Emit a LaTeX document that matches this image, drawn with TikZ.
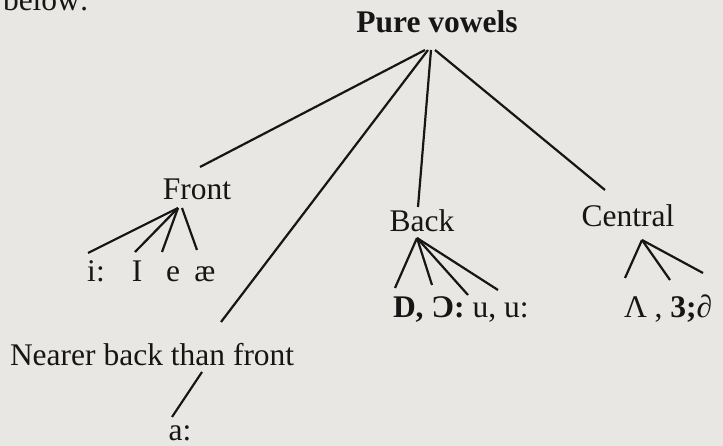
\documentclass[tikz,border=0pt]{standalone}
\usepackage{fontspec}
\setmainfont{Liberation Serif}
\definecolor{paper}{HTML}{E9E7E3}
\definecolor{ink}{HTML}{161616}
\begin{document}
\begin{tikzpicture}[x=1pt,y=-1pt,
  lbl/.style={inner sep=0pt,outer sep=0pt,text=ink,font=\fontsize{31.5}{38}\selectfont},
  conn/.style={draw=ink,line width=2.2pt}]
\fill[paper] (0,0) rectangle (723,446);
\useasboundingbox (0,0) rectangle (723,446);
% partial text at top
\node[lbl,anchor=base west] (below) at (3,11) {below:};
% labels
\node[lbl,anchor=base,font=\bfseries\fontsize{31.5}{38}\selectfont] (pure) at (437,33) {Pure vowels};
\node[lbl,anchor=base] (front) at (197,200) {Front};
\node[lbl,anchor=base] (back) at (422,232) {Back};
\node[lbl,anchor=base] (central) at (628,227) {Central};
\node[lbl,anchor=base west] (nearer) at (10,365) {Nearer back than front};
\node[lbl,anchor=base] (a) at (180,440) {a:};
\node[lbl,anchor=base] (ii) at (96,282) {i:};
\node[lbl,anchor=base] (iI) at (137,282) {I};
\node[lbl,anchor=base] (ie) at (173,282) {e};
\node[lbl,anchor=base] (iae) at (205,282) {æ};
\node[lbl,anchor=base west] (backv) at (393,318) {\textbf{D, Ɔ:} u, u:};
\node[lbl,anchor=base west] (centv) at (624,318) {Λ , \textbf{3;}∂};
% connector end points
\coordinate (r1) at (425,50); \coordinate (r2) at (428,50);
\coordinate (r3) at (431,50); \coordinate (r4) at (435,50);
\coordinate (tFront) at (200,167);
\coordinate (tNear) at (221,322);
\coordinate (tBack) at (418,207);
\coordinate (tCent) at (605,190);
\coordinate (fA) at (178,208); \coordinate (fB) at (182,208);
\coordinate (f1) at (88,253); \coordinate (f2) at (135,252);
\coordinate (f3) at (162,252); \coordinate (f4) at (197,250);
\coordinate (bA) at (417,238);
\coordinate (b1) at (395,288); \coordinate (b2) at (432,285);
\coordinate (b3) at (468,295); \coordinate (b4) at (498,290);
\coordinate (cA) at (642,240);
\coordinate (c1) at (625,278); \coordinate (c2) at (670,280);
\coordinate (c3) at (703,273);
\coordinate (nA) at (202,372); \coordinate (nB) at (172,417);
% connectors
\draw[conn] (r1) -- (tFront);
\draw[conn] (r2) -- (tNear);
\draw[conn] (r3) -- (tBack);
\draw[conn] (r4) -- (tCent);
\draw[conn] (fA) -- (f1);
\draw[conn] (fA) -- (f2);
\draw[conn] (fA) -- (f3);
\draw[conn] (fB) -- (f4);
\draw[conn] (bA) -- (b1);
\draw[conn] (bA) -- (b2);
\draw[conn] (bA) -- (b3);
\draw[conn] (bA) -- (b4);
\draw[conn] (cA) -- (c1);
\draw[conn] (cA) -- (c2);
\draw[conn] (cA) -- (c3);
\draw[conn] (nA) -- (nB);
\end{tikzpicture}
\end{document}
